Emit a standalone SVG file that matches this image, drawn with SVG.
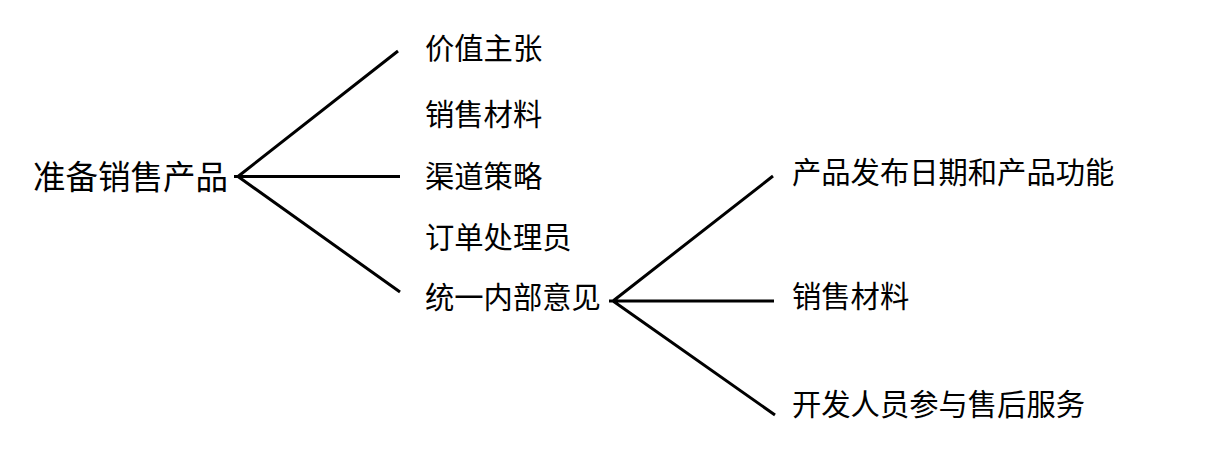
<svg xmlns="http://www.w3.org/2000/svg" width="1232" height="450" viewBox="0 0 1232 450">
<style>
text{font-family:"Noto Sans CJK SC","Noto Sans",sans-serif;fill:#000}
.r{font-size:32.5px}
.c{font-size:29.3px}
.ln{stroke:#000;stroke-width:3;fill:none;stroke-linecap:butt}
</style>
<rect width="1232" height="450" fill="#fff"/>
<g id="connectors">
<path class="ln" d="M234 176.5 H240 M238 176.5 L398 51 M238 176.5 H400 M238 176.5 L400 292"/>
<path class="ln" d="M609 301 H614 M613 301 L773 176 M613 301 H774 M613 301 L775 415"/>
</g>
<g id="root"><text class="r" x="33" y="189">准备销售产品</text></g>
<g id="n1"><text class="c" x="425" y="59">价值主张</text></g>
<g id="n2"><text class="c" x="425" y="125">销售材料</text></g>
<g id="n3"><text class="c" x="425" y="187">渠道策略</text></g>
<g id="n4"><text class="c" x="425" y="248">订单处理员</text></g>
<g id="n5"><text class="c" x="425" y="308">统一内部意见</text></g>
<g id="m1"><text class="c" x="792" y="183">产品发布日期和产品功能</text></g>
<g id="m2"><text class="c" x="792" y="307">销售材料</text></g>
<g id="m3"><text class="c" x="792" y="415">开发人员参与售后服务</text></g>
</svg>
